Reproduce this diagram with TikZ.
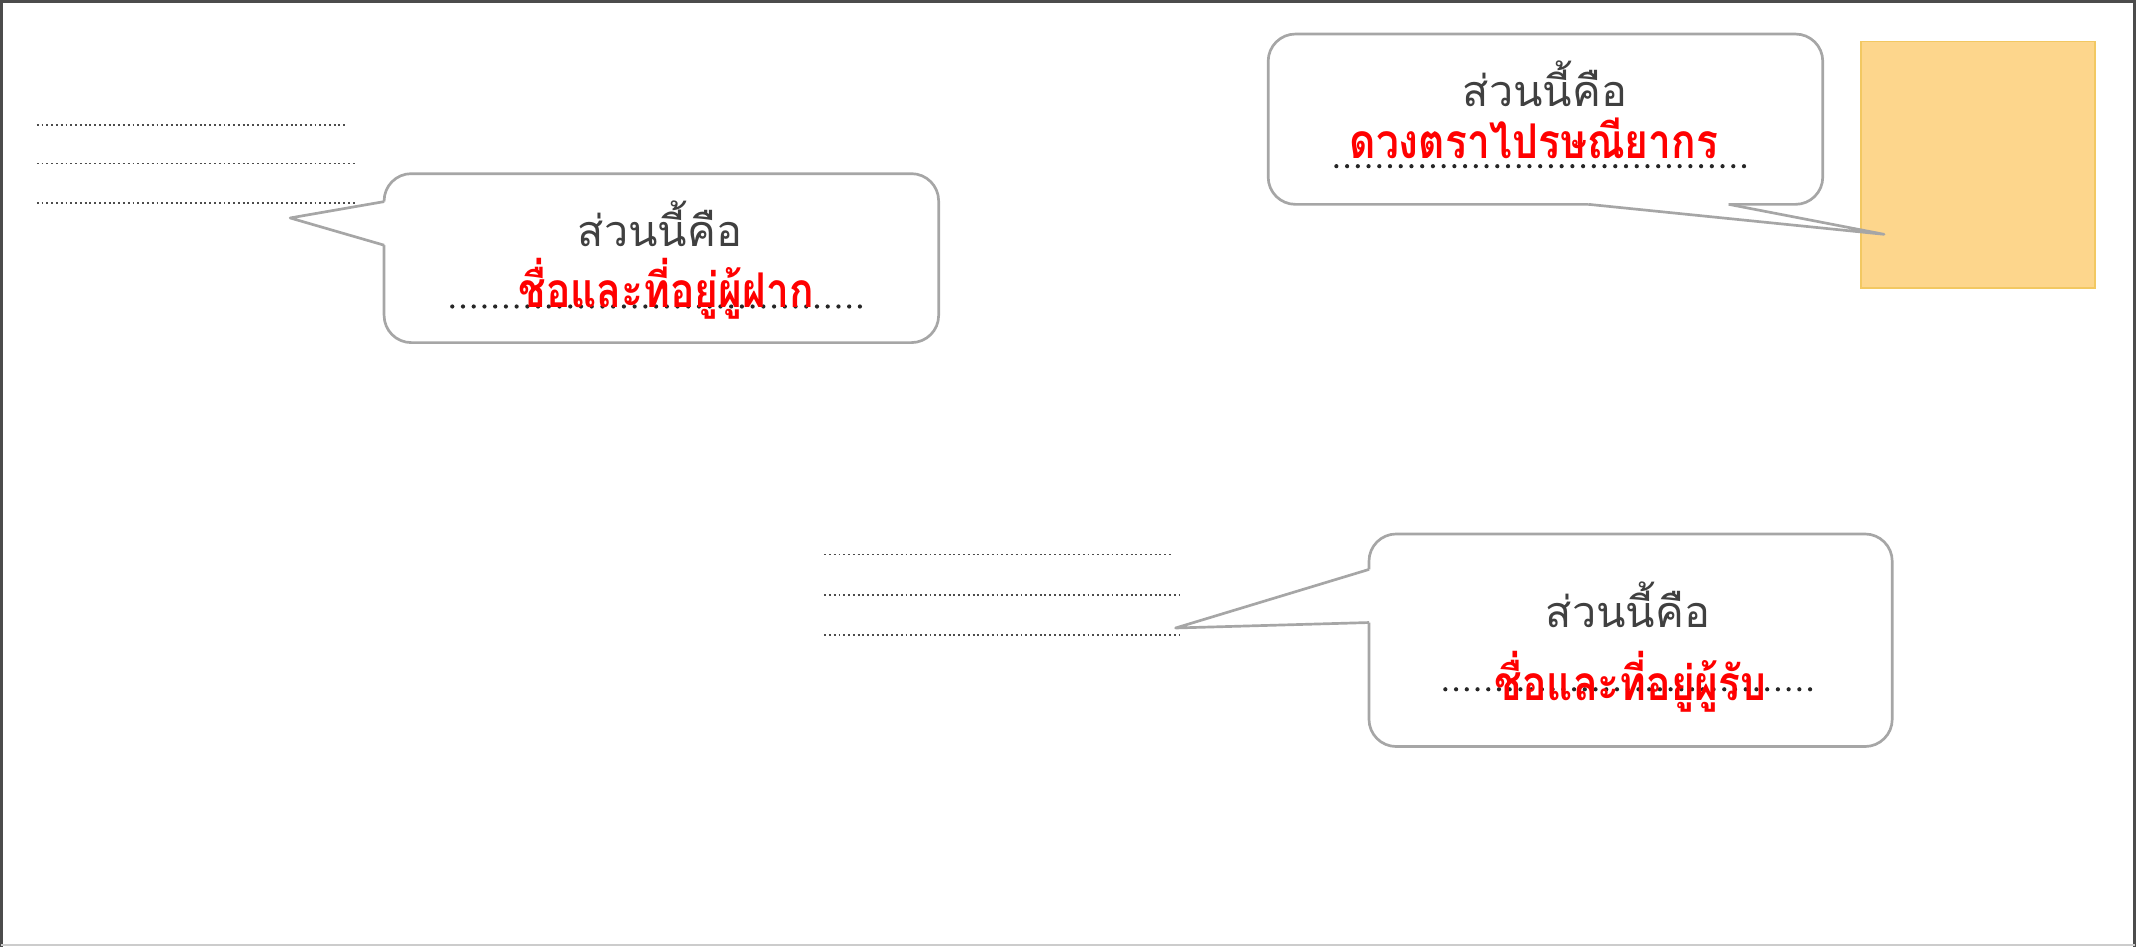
\documentclass[tikz,border=0pt]{standalone}
\usepackage{fontspec}
\newfontfamily\thaifont[Script=Thai]{Loma}
\newfontfamily\answerfont[Script=Thai, FakeStretch=0.85]{Loma}
\definecolor{stampfill}{HTML}{FDD68C}
\definecolor{stampedge}{HTML}{F2C862}

\begin{document}
\begin{tikzpicture}[x=0.025cm, y=-0.025cm]
    \useasboundingbox (0,0) rectangle (1568,695);
    \tikzset{BubbleStyle/.style={draw=black!35, line width=1.4pt, rounded corners=0.5cm, fill=white, inner sep=0pt}}
    \tikzset{PointerStyle/.style={draw=black!35, line width=1.4pt, line join=round}}
    \tikzset{TitleStyle/.style={anchor=base, text=black!75, font=\thaifont\fontsize{22.5}{24}\selectfont}}
    \tikzset{AnswerStyle/.style={anchor=base, text=red, font=\answerfont\bfseries\fontsize{25}{27}\selectfont}}
    \tikzset{BlankStyle/.style={black!85, line width=2.2pt, line cap=round, dash pattern=on 0pt off 5.6pt}}
    \tikzset{AddressStyle/.style={black!70, line width=0.9pt, dash pattern=on 1pt off 1.5pt}}

    % envelope edge
    \draw[black!70, line width=1.5pt] (1,695) -- (1,1) -- (1567,1) -- (1567,695);
    \draw[black!20, line width=1pt] (1,694) -- (1567,694);

    % address lines
    \draw[AddressStyle] (27,92) -- (255,92);
    \draw[AddressStyle] (27,120) -- (261,120);
    \draw[AddressStyle] (27,149) -- (261,149);
    \draw[AddressStyle] (605,407) -- (860,407);
    \draw[AddressStyle] (605,437) -- (866,437);
    \draw[AddressStyle] (605,466) -- (866,466);

    % stamp
    \node[draw=stampedge, fill=stampfill, line width=1pt, minimum width=4.3cm, minimum height=4.525cm] (stamp) at (1452,121) {};

    % sender
    \node[BubbleStyle, minimum width=10.175cm, minimum height=3.1cm] (sender) at (485.5,189.5) {};
    \coordinate (sendertip) at (213,160);
    \fill[white] (288,148) -- (282,148) -- (sendertip) -- (282,180) -- (288,180) -- cycle;
    \draw[PointerStyle] (282,148) -- (sendertip) -- (282,180);
    \draw[BlankStyle] (332,225) -- (637,225);
    \node[TitleStyle] (sendertitle) at (484.5,181) {ส่วนนี้คือ};
    \node[AnswerStyle] (senderanswer) at (489,226) {ชื่อและที่อยู่ผู้ฝาก};

    % postage
    \node[BubbleStyle, minimum width=10.175cm, minimum height=3.125cm] (postage) at (1134.5,87.5) {};
    \coordinate (postagetip) at (1383,172);
    \fill[white] (1166,144) -- (1166,150) -- (postagetip) -- (1269,150) -- (1269,144) -- cycle;
    \draw[PointerStyle] (1166,150) -- (postagetip) -- (1269,150);
    \draw[BlankStyle] (981,122) -- (1285,122);
    \node[TitleStyle] (postagetitle) at (1134,78) {ส่วนนี้คือ};
    \node[AnswerStyle] (postageanswer) at (1126,116) {ดวงตราไปรษณียากร};

    % receiver
    \node[BubbleStyle, minimum width=9.6cm, minimum height=3.9cm] (receiver) at (1197,470) {};
    \coordinate (receivertip) at (863,461);
    \fill[white] (1011,418) -- (1005,418) -- (receivertip) -- (1005,457) -- (1011,457) -- cycle;
    \draw[PointerStyle] (1005,418) -- (receivertip) -- (1005,457);
    \draw[BlankStyle] (1061,506) -- (1333,506);
    \node[TitleStyle] (receivertitle) at (1195,461) {ส่วนนี้คือ};
    \node[AnswerStyle] (receiveranswer) at (1197,514) {ชื่อและที่อยู่ผู้รับ};
\end{tikzpicture}
\end{document}
